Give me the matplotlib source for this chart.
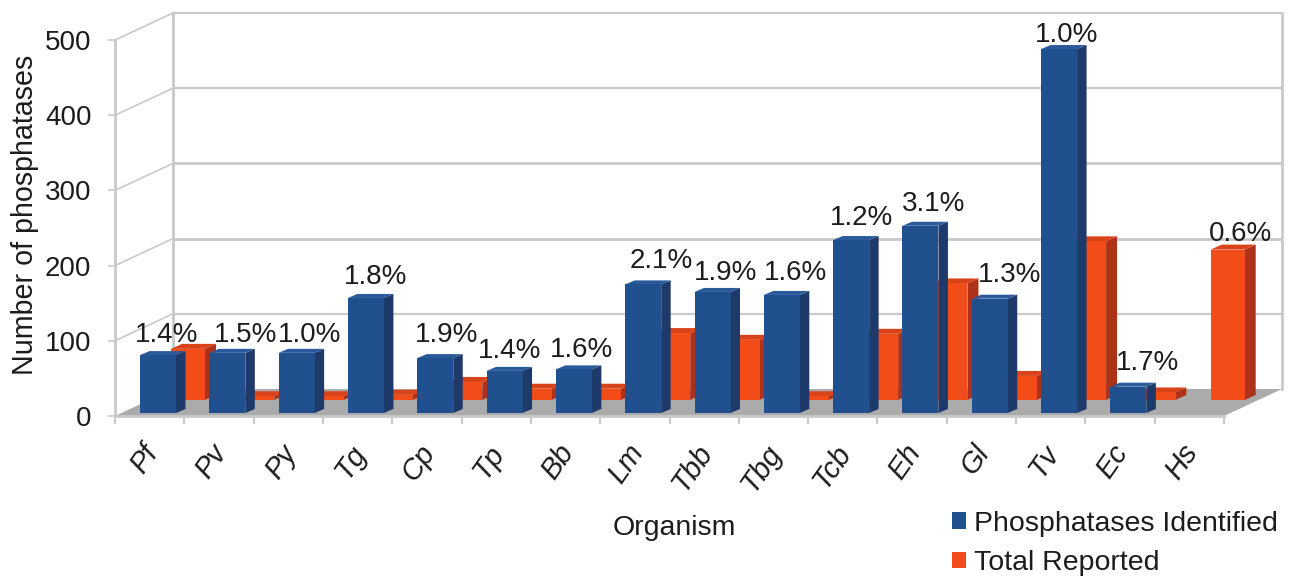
import matplotlib
matplotlib.use('Agg')
import matplotlib.pyplot as plt
from matplotlib.patches import Patch, Polygon
from matplotlib.transforms import ScaledTranslation

organisms = ['Pf', 'Pv', 'Py', 'Tg', 'Cp', 'Tp', 'Bb', 'Lm', 'Tbb', 'Tbg', 'Tcb', 'Eh', 'Gl', 'Tv', 'Ec', 'Hs']
identified = [77, 80, 80, 153, 73, 56, 58, 171, 161, 157, 230, 249, 152, 484, 35, 0]
reported = [68, 5, 5, 7, 24, 15, 15, 89, 80, 5, 88, 155, 32, 211, 10, 200]
percent = ['1.4%', '1.5%', '1.0%', '1.8%', '1.9%', '1.4%', '1.6%', '2.1%',
           '1.9%', '1.6%', '1.2%', '3.1%', '1.3%', '1.0%', '1.7%', '0.6%']
y_ticks = [0, 100, 200, 300, 400, 500]

# label anchors in picture pixels (centre x, baseline y)
label_px = [(167, 342), (246, 342), (310, 342), (376, 284), (447, 342), (510, 358),
            (581, 357), (661, 268), (726, 280), (796, 280), (862, 225), (934, 211),
            (1010, 282), (1067, 42), (1148, 370), (1240, 241)]

W, H = 1292, 580
LEFT, RIGHT, BASE, TOP = 115, 1224, 416, 40
X_PX = (RIGHT - LEFT) / len(organisms)
Y_PX = (BASE - TOP) / 500
WALL_DX, WALL_DY = 58, 27

BLUE = ('#21508f', '#1e3a6b', '#2b5a9c')
RED = ('#f24c19', '#ad3219', '#d9431a')
GRID = '#c9c9c9'
FLOOR = '#ababab'
TEXT = '#1c1c1c'

plt.rcParams['font.family'] = ['Liberation Sans', 'DejaVu Sans']
plt.rcParams['font.size'] = 20


def dx(px):
    return px / X_PX


def dy(px):
    return px / Y_PX


def draw_bars(ax, values, colors, x_off, lift, width, depth_x, depth_y, z):
    front, side, top = colors
    for i, v in enumerate(values):
        if v <= 0:
            continue
        x0 = i + dx(x_off)
        x1 = x0 + dx(width)
        y0 = dy(lift)
        y1 = y0 + v
        sx, sy = dx(depth_x), dy(depth_y)
        ax.add_patch(Polygon([(x1, y0), (x1 + sx, y0 + sy), (x1 + sx, y1 + sy), (x1, y1)],
                             fc=side, ec='none', clip_on=False, zorder=z))
        ax.add_patch(Polygon([(x0, y1), (x1, y1), (x1 + sx, y1 + sy), (x0 + sx, y1 + sy)],
                             fc=top, ec='none', clip_on=False, zorder=z))
        ax.add_patch(Polygon([(x0, y0), (x1, y0), (x1, y1), (x0, y1)],
                             fc=front, ec='none', clip_on=False, zorder=z))


fig = plt.figure(figsize=(W / 100, H / 100), dpi=100)
ax = fig.add_axes([LEFT / W, (H - BASE) / H, (RIGHT - LEFT) / W, (BASE - TOP) / H])
ax.set_xlim(0, len(organisms))
ax.set_ylim(0, 500)

wx, wy = dx(WALL_DX), dy(WALL_DY)
n = len(organisms)

# floor and back wall
ax.add_patch(Polygon([(0, 0), (n, 0), (n + wx, wy), (wx, wy)], fc=FLOOR, ec='none', clip_on=False, zorder=1))
for t in y_ticks[1:]:
    lw = 2.0 if t in (200, 300) else 1.6
    ax.plot([wx, n + wx], [t + wy, t + wy], color=GRID, lw=lw, clip_on=False, zorder=1, solid_capstyle='butt')
    ax.plot([0, wx], [t, t + wy], color=GRID, lw=1.2, clip_on=False, zorder=1)
ax.plot([wx, wx], [wy, 500 + wy], color=GRID, lw=2, clip_on=False, zorder=1)
ax.plot([n + wx, n + wx], [wy, 500 + wy], color=GRID, lw=2, clip_on=False, zorder=1)

draw_bars(ax, reported, RED, 25 + 31, 16, 34, 11, 5, 3)
draw_bars(ax, identified, BLUE, 25, 3, 36, 9.5, 4, 4)

for s in ('top', 'right'):
    ax.spines[s].set_visible(False)
for s in ('left', 'bottom'):
    ax.spines[s].set_color(GRID)
    ax.spines[s].set_linewidth(2)

ax.set_yticks(y_ticks)
ax.tick_params(axis='y', length=5, width=1.2, color=GRID, labelcolor=TEXT, labelsize=20, pad=12)
ax.set_xticks(range(n + 1))
ax.set_xticklabels([])
ax.tick_params(axis='x', which='major', length=6, width=1.5, color=GRID)
ax.set_xticks([i + 0.5 for i in range(n)], minor=True)
ax.set_xticklabels(organisms, minor=True, rotation=55, ha='right', rotation_mode='anchor',
                   style='italic', color=TEXT, fontsize=21)
ax.tick_params(axis='x', which='minor', length=0, pad=17)
shift = ScaledTranslation(-9 / 100, 0, fig.dpi_scale_trans)
for lab in ax.get_xticklabels(minor=True):
    lab.set_transform(lab.get_transform() + shift)

for txt, (px, py) in zip(percent, label_px):
    ax.text(dx(px - LEFT), dy(BASE - py), txt, ha='center', va='baseline',
            color=TEXT, fontsize=20, clip_on=False, zorder=6)

ax.set_ylabel('Number of phosphatases', color=TEXT, fontsize=20.6, va='center')
ax.yaxis.set_label_coords((25 - LEFT) / (RIGHT - LEFT), (BASE - 215) / (BASE - TOP))
ax.set_xlabel('Organism', color=TEXT, fontsize=20.5, va='center')
ax.xaxis.set_label_coords((674 - LEFT) / (RIGHT - LEFT), (BASE - 528) / (BASE - TOP))

handles = [Patch(fc=BLUE[0], ec='none'), Patch(fc=RED[0], ec='none')]
fig.legend(handles, ['Phosphatases Identified', 'Total Reported'], loc='upper left',
           bbox_to_anchor=(946 / W, 1 - 505 / H), frameon=False, fontsize=20.5,
           labelcolor=TEXT, handlelength=0.5, handleheight=0.5, handletextpad=0.3,
           labelspacing=0.48, borderpad=0.2, borderaxespad=0)

fig.savefig('out.png', dpi=100)
